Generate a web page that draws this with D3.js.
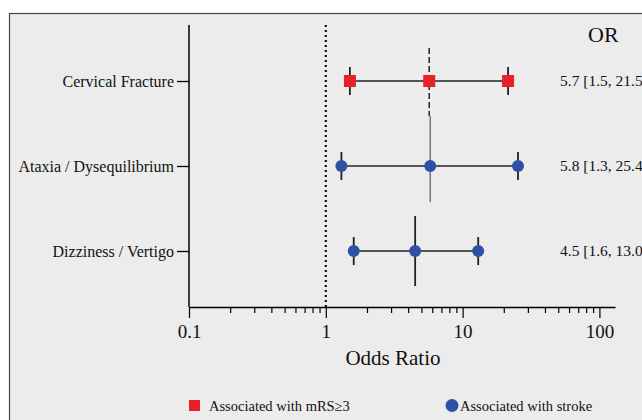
<!DOCTYPE html>
<html>
<head>
<meta charset="utf-8">
<script src="https://cdn.jsdelivr.net/npm/d3@7"></script>
<style>
  body { margin: 0; background: #fff; }
  svg { display: block; }
  svg text { font-family: "Liberation Serif", "Times New Roman", serif; }
</style>
</head>
<body>
<script>
// Data
const categories = ["Cervical Fracture", "Ataxia / Dysequilibrium", "Dizziness / Vertigo"];
const orValues = [5.7, 5.8, 4.5];
const lowerCI = [1.5, 1.3, 1.6];
const upperCI = [21.5, 25.4, 13.0];
const groups = ["mrs", "stroke", "stroke"];
const tickLabels = [0.1, 1, 10, 100];
const legendLabels = ["Associated with mRS\u22653", "Associated with stroke"];

const rows = categories.map((c, i) => ({
    name: c, or: orValues[i], lo: lowerCI[i], hi: upperCI[i], group: groups[i]
}));

let width = 642;
let height = 420;

const svg = d3.select("body").append("svg")
    .attr("width", width)
    .attr("height", height)
    .attr("viewBox", [0, 0, width, height]);

// panel background with frame
svg.append("rect")
    .attr("x", 9.5).attr("y", 13.5)
    .attr("width", width).attr("height", height)
    .attr("fill", "#ececec")
    .attr("stroke", "#444").attr("stroke-width", 1.2);

const x = d3.scaleLog()
    .domain([0.1, 130])
    .range([189, 615]);

const y = d3.scalePoint()
    .domain(categories)
    .range([81, 251]);

const axisY = 307;
const topY = 25;

// y axis
svg.append("g")
    .attr("transform", `translate(${x(0.1)},0)`)
    .call(d3.axisLeft(y).tickSize(12).tickPadding(3).tickSizeOuter(0))
    .call(g => g.select(".domain").attr("d", `M0,${topY}V${axisY}`).attr("stroke-width", 1.5))
    .call(g => g.selectAll(".tick line").attr("stroke-width", 1.3))
    .call(g => g.selectAll("text").attr("fill", "#111").style("font-size", "16px"));

// x axis: all log ticks, label only decades
const allTicks = [];
[0.1, 1, 10].forEach(d => { for (let k = 1; k <= 9; k++) allTicks.push(+(d * k).toPrecision(2)); });
allTicks.push(100);

const xAxis = svg.append("g")
    .attr("transform", `translate(0,${axisY})`)
    .call(d3.axisBottom(x).tickValues(allTicks)
        .tickFormat(d => tickLabels.includes(d) ? String(d) : "")
        .tickSizeOuter(0).tickPadding(12))
    .call(g => g.select(".domain").attr("stroke-width", 1.5))
    .call(g => g.selectAll(".tick line")
        .attr("y2", d => tickLabels.includes(d) ? 11 : 6)
        .attr("stroke-width", 1.2))
    .call(g => g.selectAll("text").attr("fill", "#111").style("font-size", "19px"));

xAxis.append("text")
    .attr("x", 393)
    .attr("y", 58)
    .attr("fill", "#111")
    .attr("text-anchor", "middle")
    .style("font-size", "21px")
    .text("Odds Ratio");

// reference line at OR = 1
svg.append("line")
    .attr("x1", x(1)).attr("x2", x(1))
    .attr("y1", topY).attr("y2", axisY)
    .attr("stroke", "#111")
    .attr("stroke-width", 2.2)
    .attr("stroke-dasharray", "2,3");

// vertical lines at point estimate
const vStyle = [
    { top: 48, bot: 116, color: "#222", width: 1.5, dash: "6,3" },
    { top: 116, bot: 202, color: "#777", width: 1.5, dash: null },
    { top: 216, bot: 286, color: "#222", width: 1.8, dash: null }
];
svg.append("g").selectAll("line")
    .data(rows)
    .join("line")
    .attr("x1", d => x(d.or)).attr("x2", d => x(d.or))
    .attr("y1", (d, i) => vStyle[i].top)
    .attr("y2", (d, i) => vStyle[i].bot)
    .attr("stroke", (d, i) => vStyle[i].color)
    .attr("stroke-width", (d, i) => vStyle[i].width)
    .attr("stroke-dasharray", (d, i) => vStyle[i].dash);

// CI lines
const ci = svg.append("g").attr("stroke", "#222");
ci.selectAll(".ci")
    .data(rows)
    .join("line")
    .attr("x1", d => x(d.lo)).attr("x2", d => x(d.hi))
    .attr("y1", d => y(d.name)).attr("y2", d => y(d.name))
    .attr("stroke-width", 1.5);
ci.selectAll(".cap")
    .data(rows.flatMap(d => [{ v: d.lo, name: d.name }, { v: d.hi, name: d.name }]))
    .join("line")
    .attr("x1", d => x(d.v)).attr("x2", d => x(d.v))
    .attr("y1", d => y(d.name) - 14).attr("y2", d => y(d.name) + 14)
    .attr("stroke-width", 1.8);

// markers
const red = "#e8202a", blue = "#3050a6";
const pts = rows.flatMap(d => [d.lo, d.or, d.hi].map(v => ({ v, name: d.name, group: d.group })));
svg.append("g").selectAll("rect")
    .data(pts.filter(d => d.group === "mrs"))
    .join("rect")
    .attr("x", d => x(d.v) - 6).attr("y", d => y(d.name) - 6)
    .attr("width", 12).attr("height", 12)
    .attr("fill", red);
svg.append("g").selectAll("circle")
    .data(pts.filter(d => d.group === "stroke"))
    .join("circle")
    .attr("cx", d => x(d.v)).attr("cy", d => y(d.name))
    .attr("r", 6)
    .attr("fill", blue);

// OR column (runs past the right edge, as in the source)
svg.append("text")
    .attr("x", 588).attr("y", 42)
    .attr("fill", "#111")
    .style("font-size", "22px")
    .text("OR");
svg.append("g").selectAll("text")
    .data(rows)
    .join("text")
    .attr("x", 560)
    .attr("y", d => y(d.name) + 5)
    .attr("fill", "#111")
    .style("font-size", "15.5px")
    .text(d => `${d.or.toFixed(1)} [${d.lo.toFixed(1)}, ${d.hi.toFixed(1)}]`);

// legend
const legend = svg.append("g");
legend.append("rect").attr("x", 189).attr("y", 400).attr("width", 11).attr("height", 11).attr("fill", red);
legend.append("circle").attr("cx", 452).attr("cy", 405.5).attr("r", 6.5).attr("fill", blue);
legend.selectAll("text")
    .data(legendLabels)
    .join("text")
    .attr("x", (d, i) => i === 0 ? 209 : 460)
    .attr("y", 411)
    .attr("fill", "#111")
    .style("font-family", "'Liberation Serif', serif")
    .style("font-size", "14.5px")
    .text(d => d);
</script>
</body>
</html>
